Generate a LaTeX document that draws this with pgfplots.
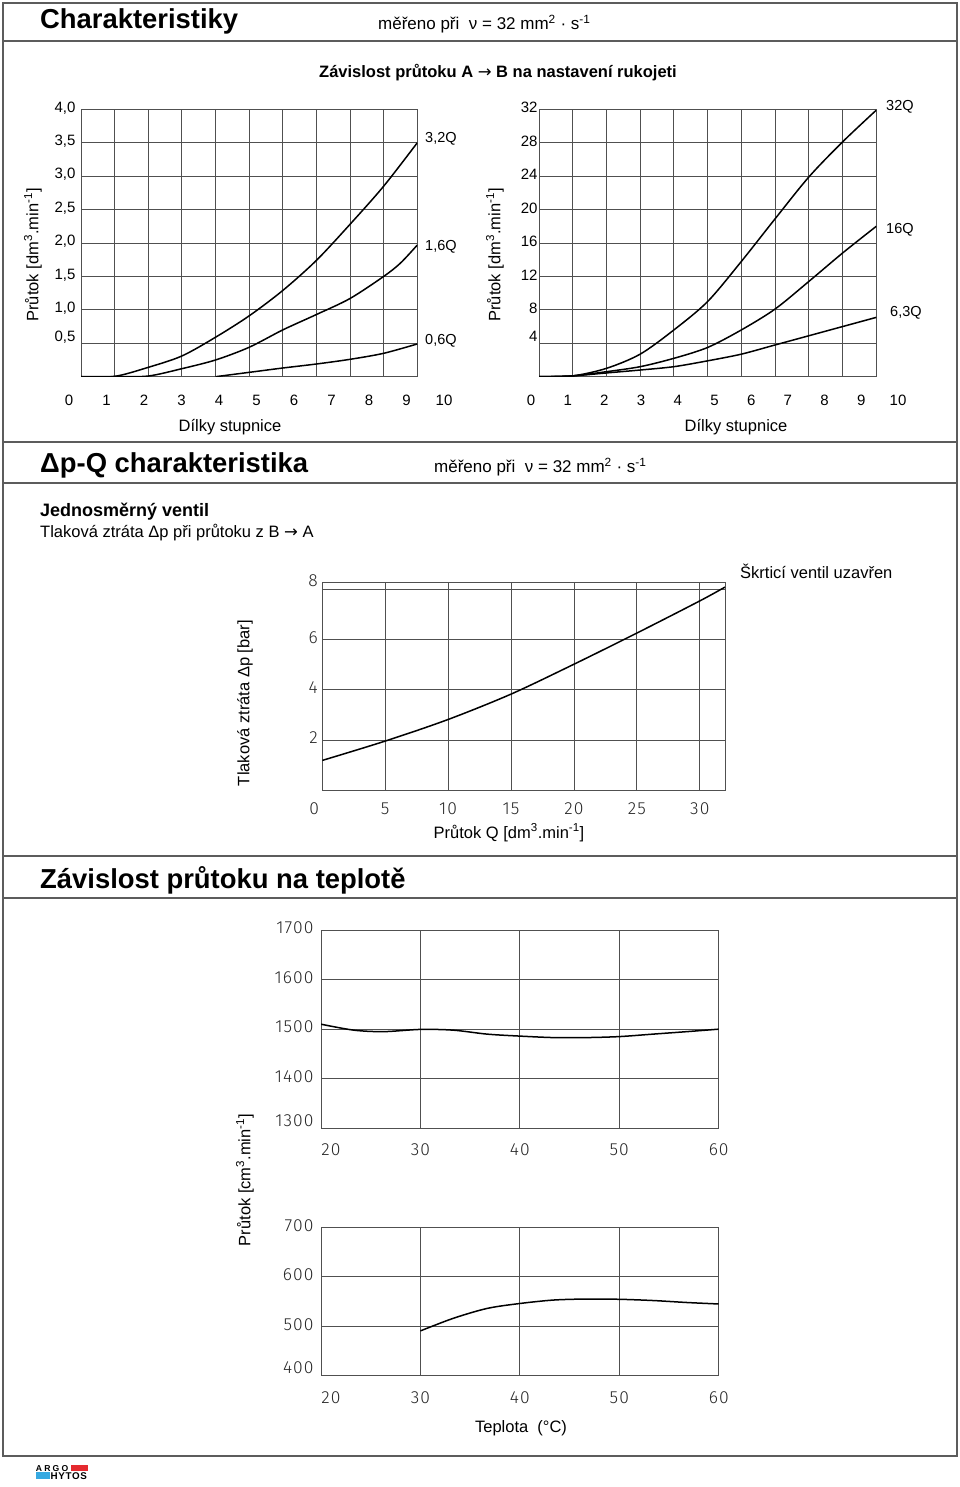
\documentclass[border=0pt]{standalone}
\usepackage{fontspec}
\setmainfont{Liberation Sans}
\newfontfamily\isofont{Fira Sans}[UprightFont=* Light, LetterSpace=6]
\newfontfamily\symfont{DejaVu Sans}
\usepackage{pgfplots}
\pgfplotsset{compat=1.18}
\usepackage{graphicx}

\definecolor{gridc}{HTML}{505050}
\definecolor{framec}{HTML}{5C5C5C}
\definecolor{argored}{HTML}{E52A2F}
\definecolor{argoblue}{HTML}{36A9E1}
\newcommand{\fs}[1]{\fontsize{#1pt}{#1pt}\selectfont}
\newcommand{\arr}{{\symfont\mdseries →}}

\pgfplotsset{
  grch/.style={
    scale only axis, anchor=south west,
    grid=major, grid style={gridc, line width=0.9pt},
    axis line style={gridc, line width=1pt},
    major tick length=0pt,
    /pgf/number format/assume math mode=true,
    /pgf/number format/1000 sep={},
    scaled ticks=false,
    tick label style={font=\fs{15}},
  },
  xlab/.style={
    scale only axis, anchor=south west, height=10pt,
    ymin=0, ymax=1, hide y axis, axis x line*=bottom,
    x axis line style={draw=none}, major tick length=0pt, tick style={draw=none},
    /pgf/number format/assume math mode=true,
    xticklabel style={anchor=base, yshift=-28.7pt, font=\fs{15}},
    xmin=0, xmax=10, xtick={0,...,10},
  },
  crv/.style={black, line width=1.5pt, smooth, tension=0.5, mark=none},
  eg/.style={grid=major, major grid style={gridc, line width=0.9pt}},
  iso/.style={tick label style={font=\isofont\fs{17.5}, text=black!85}},
}

\begin{document}
\begin{tikzpicture}
\useasboundingbox (0pt,0pt) rectangle (960pt,-1487pt);

% ---------- frame ----------
\draw[framec, line width=2pt] (2.7pt,-2.7pt) rectangle (956.7pt,-1456pt);
\foreach \yy in {41,441.7,482.7,856,897.5}
  \draw[framec, line width=2pt] (2.7pt,-\yy pt) -- (956.7pt,-\yy pt);

% ---------- headings ----------
\node[anchor=base west, inner sep=0] at (40pt,-29pt) {\fs{27.4}\bfseries Charakteristiky};
\node[anchor=base west, inner sep=0] at (378pt,-30pt) {\fs{17}měřeno při\ \ ν = 32 mm\textsuperscript{2} · s\textsuperscript{-1}};
\node[anchor=base, inner sep=0] at (498pt,-77.5pt) {\fs{16.5}\bfseries Závislost průtoku A \arr{} B na nastavení rukojeti};

\node[anchor=base west, inner sep=0] at (40pt,-472pt) {\fs{27.4}\bfseries Δp-Q charakteristika};
\node[anchor=base west, inner sep=0] at (434pt,-472.5pt) {\fs{17}měřeno při\ \ ν = 32 mm\textsuperscript{2} · s\textsuperscript{-1}};
\node[anchor=base west, inner sep=0] at (40pt,-516.5pt) {\fs{18}\bfseries Jednosměrný ventil};
\node[anchor=base west, inner sep=0] at (40pt,-537.5pt) {\fs{16.5}Tlaková ztráta Δp při průtoku z B \arr{} A};
\node[anchor=base west, inner sep=0] at (740pt,-578.5pt) {\fs{16.5}Škrticí ventil uzavřen};

\node[anchor=base west, inner sep=0] at (40pt,-888pt) {\fs{27.4}\bfseries Závislost průtoku na teplotě};

% ---------- upper left chart ----------
\begin{axis}[grch, at={(81pt,-376.7pt)}, width=336.3pt, height=267.4pt,
  xmin=0, xmax=10, ymin=0, ymax=4,
  xtick={0,...,10}, xticklabels={},
  ytick={1,1.5,2,2.5,3,3.5,4},
  yticklabels={{1,0},{1,5},{2,0},{2,5},{3,0},{3,5},{4,0}},
  extra y ticks={0.5}, extra y tick labels={0{,}5},
  extra y tick style={eg, yticklabel style={yshift=5pt}},
  yticklabel style={xshift=-2pt, yshift=1.5pt}]
\addplot[crv] coordinates {(0,0) (1,0.005) (2,0.14) (3,0.31) (4,0.59) (5,0.91) (6,1.29) (7,1.74) (8,2.28) (9,2.85) (10,3.5)};
\addplot[crv] coordinates {(0,0) (1,0) (2,0.01) (3,0.12) (4,0.25) (5,0.44) (6,0.7) (7,0.93) (8,1.17) (9,1.5) (9.5,1.7) (10,1.97)};
\addplot[crv] coordinates {(4,0) (5,0.065) (6,0.13) (7,0.19) (8,0.26) (9,0.35) (10,0.49)};
\end{axis}
\begin{axis}[xlab, at={(69pt,-376.7pt)}, width=375pt]
\end{axis}
\node[anchor=west, inner sep=0] at (425pt,-139pt) {\fs{14.5}3,2Q};
\node[anchor=west, inner sep=0] at (425pt,-247pt) {\fs{14.5}1,6Q};
\node[anchor=west, inner sep=0] at (425pt,-341pt) {\fs{14.5}0,6Q};
\node[rotate=90, inner sep=0] at (33pt,-255pt) {\fs{16.5}Průtok [dm\textsuperscript{3}.min\textsuperscript{-1}]};
\node[anchor=base, inner sep=0] at (230pt,-431.5pt) {\fs{16.5}Dílky stupnice};

% ---------- upper right chart ----------
\begin{axis}[grch, at={(539pt,-376.7pt)}, width=337.3pt, height=267.4pt,
  xmin=0, xmax=10, ymin=0, ymax=32,
  xtick={0,...,10}, xticklabels={},
  ytick={8,12,...,32},
  extra y ticks={4}, extra y tick labels={4},
  extra y tick style={eg, yticklabel style={yshift=5pt}},
  yticklabel style={xshift=2pt, yshift=1.5pt}]
\addplot[crv] coordinates {(0,0) (1,0.1) (2,1.0) (3,2.7) (4,5.6) (5,9.0) (6,13.8) (7,18.9) (8,23.9) (9,28.1) (10,31.9)};
\addplot[crv] coordinates {(0,0) (1,0.1) (2,0.6) (3,1.2) (4,2.2) (5,3.5) (6,5.6) (7,8.1) (8,11.4) (9,14.8) (10,18.0)};
\addplot[crv] coordinates {(0,0) (1,0.1) (2,0.45) (3,0.8) (4,1.2) (5,1.9) (6,2.7) (7,3.8) (8,4.9) (9,6.0) (10,7.1)};
\end{axis}
\begin{axis}[xlab, at={(531pt,-376.7pt)}, width=367pt]
\end{axis}
\node[anchor=west, inner sep=0] at (886pt,-107pt) {\fs{14.5}32Q};
\node[anchor=west, inner sep=0] at (886pt,-230pt) {\fs{14.5}16Q};
\node[anchor=west, inner sep=0] at (890pt,-313pt) {\fs{14.5}6,3Q};
\node[rotate=90, inner sep=0] at (495pt,-255pt) {\fs{16.5}Průtok [dm\textsuperscript{3}.min\textsuperscript{-1}]};
\node[anchor=base, inner sep=0] at (736pt,-431.5pt) {\fs{16.5}Dílky stupnice};

% ---------- dp-Q chart ----------
\begin{axis}[grch, iso, at={(322.3pt,-790.3pt)}, width=402.7pt, height=208pt,
  xmin=0, xmax=32, ymin=0, ymax=8.28,
  xtick={5,10,...,30},
  extra x ticks={0}, extra x tick labels={0},
  extra x tick style={eg, xticklabel style={xshift=-8pt}},
  ytick={2,4,6,8}, yticklabels={2,4,6,{}},
  extra y ticks={8.28}, extra y tick labels={8},
  extra y tick style={eg},
  xticklabel style={anchor=base, yshift=-23.7pt},
  yticklabel style={xshift=-1pt, yshift=2pt}]
\addplot[crv] coordinates {(0,1.19) (5,1.96) (10,2.82) (15,3.83) (20,5.02) (25,6.26) (30,7.54) (32,8.09)};
\end{axis}
\node[rotate=90, inner sep=0] at (245pt,-703pt) {\fs{16.5}Tlaková ztráta Δp [bar]};
\node[anchor=base, inner sep=0] at (509pt,-838pt) {\fs{16.5}Průtok Q [dm\textsuperscript{3}.min\textsuperscript{-1}]};

% ---------- temperature charts ----------
\begin{axis}[grch, iso, at={(321pt,-1128.3pt)}, width=397.7pt, height=198.3pt,
  xmin=20, xmax=60, ymin=1300, ymax=1700,
  xtick={30,40,50,60},
  extra x ticks={20}, extra x tick labels={20},
  extra x tick style={eg, xticklabel style={xshift=10pt}},
  ytick={1400,1500,1600,1700},
  extra y ticks={1300}, extra y tick labels={1300},
  extra y tick style={eg, yticklabel style={yshift=6pt}},
  xticklabel style={anchor=base, yshift=-26.7pt},
  yticklabel style={xshift=-4pt, yshift=2pt}]
\addplot[crv] coordinates {(20,1510) (23.3,1498) (26.3,1495) (30,1499.5) (33.3,1498) (36.7,1490) (40,1486) (43.4,1483) (46.7,1483) (50,1485) (53.4,1490) (56.8,1495) (60,1500)};
\end{axis}
\begin{axis}[grch, iso, at={(321pt,-1375.7pt)}, width=397.7pt, height=148.4pt,
  xmin=20, xmax=60, ymin=400, ymax=700,
  xtick={30,40,50,60},
  extra x ticks={20}, extra x tick labels={20},
  extra x tick style={eg, xticklabel style={xshift=10pt}},
  ytick={500,600,700},
  extra y ticks={400}, extra y tick labels={400},
  extra y tick style={eg, yticklabel style={yshift=6pt}},
  xticklabel style={anchor=base, yshift=-27.3pt},
  yticklabel style={xshift=-4pt, yshift=2pt}]
\addplot[crv] coordinates {(30,490.6) (33.3,516) (36.7,536) (40,546) (43.4,553) (46.7,555) (50,554.5) (53.4,552) (56.8,548) (60,545)};
\end{axis}
\node[rotate=90, inner sep=0] at (245pt,-1180pt) {\fs{16.5}Průtok [cm\textsuperscript{3}.min\textsuperscript{-1}]};
\node[anchor=base, inner sep=0] at (521pt,-1432pt) {\fs{16.5}Teplota\ \ (°C)};

% ---------- logo ----------
\fill[argored] (71pt,-1465pt) rectangle (88.3pt,-1470.5pt);
\fill[argoblue] (35.7pt,-1472pt) rectangle (50pt,-1479.3pt);
\node[anchor=base west, inner sep=0] at (35.7pt,-1471pt) {\fs{8.6}\bfseries A\kern2.2pt R\kern2.2pt G\kern2.2pt O};
\node[anchor=base west, inner sep=0] at (50.5pt,-1479.3pt) {\fs{9.8}\bfseries H\kern0.6pt Y\kern0.6pt T\kern0.6pt O\kern0.6pt S};
\end{tikzpicture}
\end{document}
